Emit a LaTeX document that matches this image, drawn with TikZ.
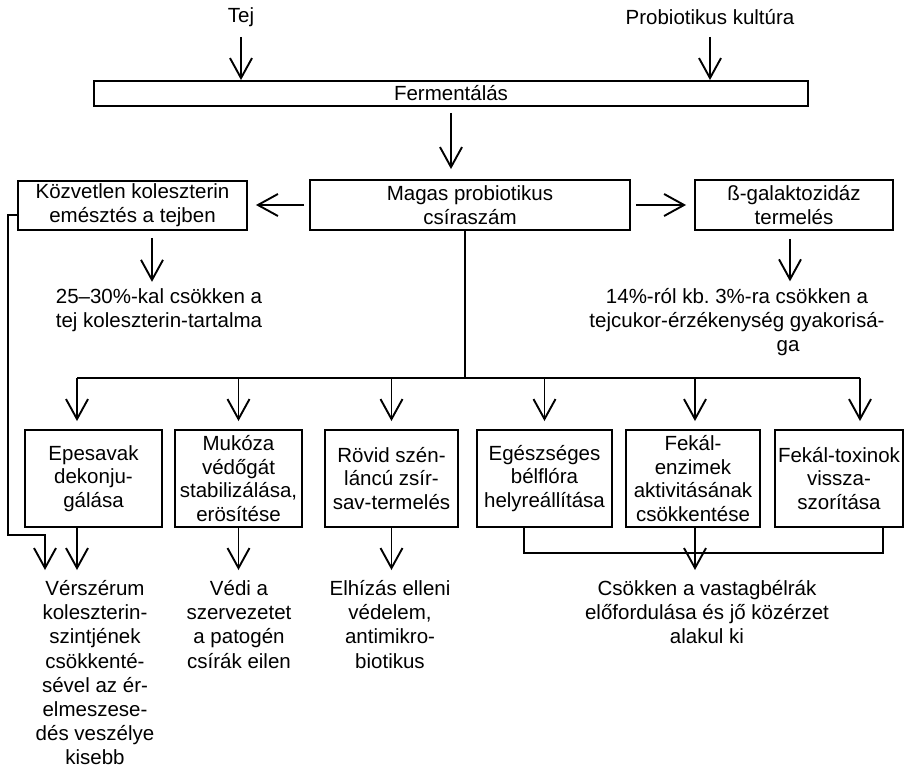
\documentclass[tikz,border=0pt]{standalone}
\usepackage{fontspec}
\setmainfont{Liberation Sans}
\usetikzlibrary{arrows.meta}
\frenchspacing
\begin{document}
\begin{tikzpicture}[x=1pt,y=-1pt,
  every node/.style={font=\fontsize{20.5pt}{23.8pt}\selectfont},
  box/.style={draw, line width=1.9pt, inner sep=0pt, align=center},
  lbl/.style={inner sep=0pt, align=center},
  lbltall/.style={inner sep=0pt, align=center, font=\fontsize{20.5pt}{24.2pt}\selectfont},
  ln/.style={line width=1.9pt},
  arr/.style={line width=1.9pt, -{Straight Barb[length=20pt,width=22pt,line width=1.9pt]}},
]
\useasboundingbox (0,0) rectangle (911,772);

% top
\node[lbl] (tej) at (241,17) {Tej};
\node[lbl] (prob) at (710,17) {Probiotikus kultúra};
\node[box, minimum width=714pt, minimum height=25pt] (ferm) at (451,93.5) {Fermentálás};

% second row
\node[box, minimum width=320pt, minimum height=50pt] (magas) at (470,205) {Magas probiotikus\\csíraszám};
\node[box, minimum width=229pt, minimum height=49pt] (kozv) at (132.5,205.5) {Közvetlen koleszterin\\emésztés a tejben};
\node[box, minimum width=198pt, minimum height=50pt] (beta) at (794,205) {ß-galaktozidáz\\termelés};
\node[lbl] (kres) at (159,310.5) {25–30\%-kal csökken a\\tej koleszterin-tartalma};
\node[lbl] (bres) at (737,322) {14\%-ról kb. 3\%-ra csökken a\\tejcukor-érzékenység gyakorisá-\\\hspace*{102pt}ga};

% bottom boxes
\node[box, minimum width=137pt, minimum height=97pt] (b1) at (93.5,478.5) {Epesavak\\dekonju-\\gálása};
\node[box, minimum width=127pt, minimum height=97pt] (b2) at (238.5,478.5) {Mukóza\\védőgát\\stabilizálása,\\erösítése};
\node[box, minimum width=133pt, minimum height=97pt] (b3) at (391.5,478.5) {Rövid szén-\\láncú zsír-\\sav-termelés};
\node[box, minimum width=135pt, minimum height=97pt] (b4) at (544.5,478.5) {Egészséges\\bélflóra\\helyreállítása};
\node[box, minimum width=134pt, minimum height=97pt] (b5) at (693,478.5) {Fekál-\\enzimek\\aktivitásának\\csökkentése};
\node[box, minimum width=128pt, minimum height=97pt] (b6) at (839,478.5) {Fekál-toxinok\\vissza-\\szorítása};

% results
\node[lbltall] (vres) at (95,672.7) {Vérszérum\\koleszterin-\\szintjének\\csökkenté-\\sével az ér-\\elmeszese-\\dés veszélye\\kisebb};
\node[lbltall] (vedi) at (239,624.3) {Védi a\\szervezetet\\a patogén\\csírák eilen};
\node[lbltall] (elh) at (390,624.3) {Elhízás elleni\\védelem,\\antimikro-\\biotikus};
\node[lbltall] (cs) at (707,612.2) {Csökken a vastagbélrák\\előfordulása és jő közérzet\\alakul ki};

% top arrows
\draw[arr, shorten <=10pt] (tej.south) -- (tej.south |- ferm.north);
\draw[arr, shorten <=12pt] (prob.south) -- (prob.south |- ferm.north);
\draw[arr, shorten <=6pt, shorten >=10pt] (ferm.south) -- (ferm.south |- magas.north);

% second row arrows
\draw[arr, shorten <=5pt, shorten >=8pt] (magas.west) -- (magas.west -| kozv.east);
\draw[arr, shorten <=5pt, shorten >=8pt] (magas.east) -- (magas.east -| beta.west);
\draw[arr, shorten <=7pt, shorten >=7pt] ([xshift=19.5pt]kozv.south) -- ([xshift=19.5pt]kozv.south |- kres.north);
\draw[arr, shorten <=8pt, shorten >=7pt] ([xshift=-4pt]beta.south) -- ([xshift=-4pt]beta.south |- bres.north);

% bus
\coordinate (hub) at (465,378);
\coordinate (busL) at (77,378);
\coordinate (busR) at (860,378);
\draw[ln] (magas.south -| hub) -- (hub);
\draw[ln] (busL) -- (busR);
\draw[arr, shorten >=8pt] (busL) -- (busL |- b1.north);
\draw[arr, shorten >=8pt] (b2.north |- hub) -- (b2.north);
\draw[arr, shorten >=8pt] (b3.north |- hub) -- (b3.north);
\draw[arr, shorten >=8pt] (b4.north |- hub) -- (b4.north);
\draw[arr, shorten >=8pt] ([xshift=2pt]b5.north |- hub) -- ([xshift=2pt]b5.north);
\draw[arr, shorten >=8pt] (busR) -- (busR |- b6.north);

% bottom arrows
\coordinate (loopA) at (8,535);
\coordinate (loopB) at (45,535);
\coordinate (tipY) at (0,570);
\draw[arr] ([yshift=-9.5pt]kozv.west) -| (loopA) -- (loopB) -- (loopB |- tipY);
\draw[arr] ([xshift=-16.5pt]b1.south) -- ([xshift=-16.5pt]b1.south |- tipY);
\draw[arr] (b2.south) -- (b2.south |- tipY);
\draw[arr] (b3.south) -- (b3.south |- tipY);
\coordinate (j4) at (524,553);
\coordinate (j6) at (883,553);
\draw[ln] (b4.south -| j4) -- (j4) -- (j6) -- (b6.south -| j6);
\draw[arr] ([xshift=2pt]b5.south) -- ([xshift=2pt]b5.south |- tipY);
\end{tikzpicture}
\end{document}
